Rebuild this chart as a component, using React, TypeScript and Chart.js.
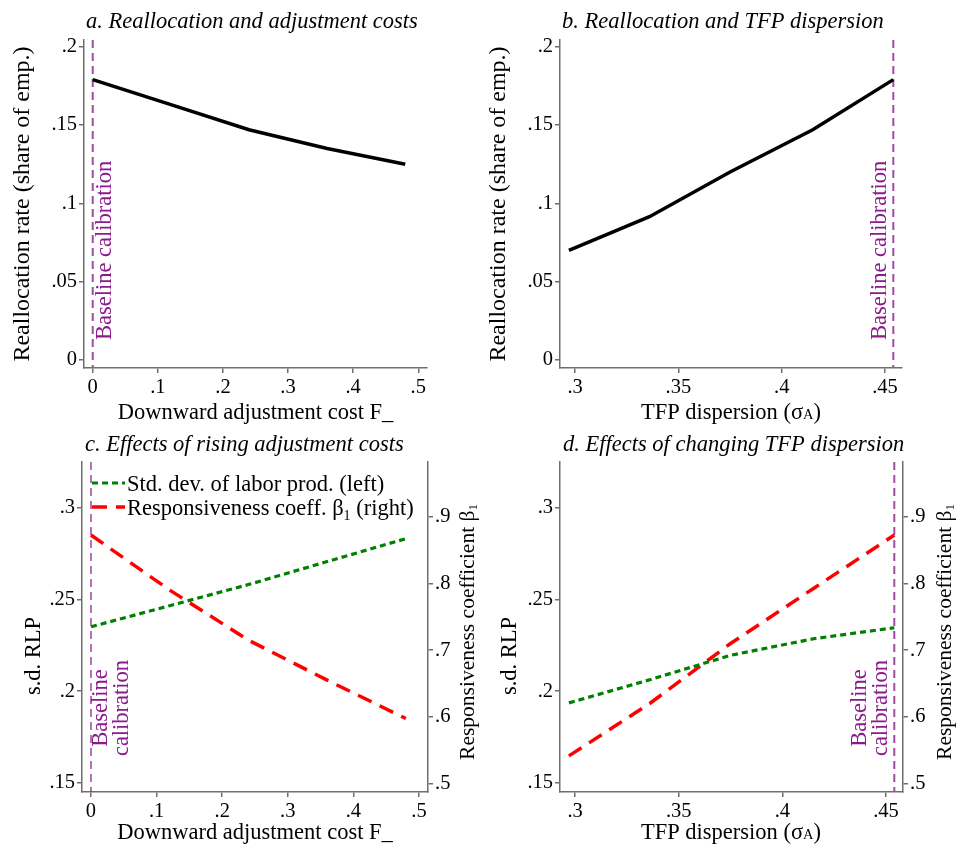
import React, { useEffect, useRef } from "react";
import { Chart, registerables } from "chart.js";
Chart.register(...registerables);

// ---------- data ----------
const costA = [0, 0.12, 0.24, 0.36, 0.48];
const reallocA = [0.179, 0.163, 0.147, 0.135, 0.125];
const sigmaB = [0.297, 0.336, 0.375, 0.415, 0.454];
const reallocB = [0.07, 0.0915, 0.12, 0.147, 0.179];
const costC = [0, 0.12, 0.24, 0.36, 0.48];
const sdC = [0.235, 0.2465, 0.258, 0.2705, 0.283];
const betaC = [0.8725, 0.79, 0.715, 0.655, 0.5975];
const sigmaD = [0.297, 0.336, 0.375, 0.415, 0.454];
const sdD = [0.1936, 0.2062, 0.2195, 0.2285, 0.2345];
const betaD = [0.5415, 0.62, 0.71, 0.7925, 0.8725];
const costTicks = [0, 0.1, 0.2, 0.3, 0.4, 0.5];
const sigmaTicks = [0.3, 0.35, 0.4, 0.45];
const reallocTicks = [0, 0.05, 0.1, 0.15, 0.2];
const sdTicks = [0.15, 0.2, 0.25, 0.3];
const betaTicks = [0.5, 0.6, 0.7, 0.8, 0.9];
const baselineCost = 0;
const baselineSigma = 0.454;

// ---------- styling ----------
const W = 961;
const H = 848;
const FONT = "'Liberation Serif', 'Times New Roman', Times, serif";
const AXIS = "#6e6e6e";
const PURPLE_TEXT = "#8b1a8b";
const PURPLE_LINE = "#a04ca0";
const GREEN = "#008000";
const RED = "#ff0000";
const TS = 22.5; // general text size
const YT = 24; // left y-axis title size
const RT = 21.5; // right y-axis title size

type Seg = { t: string; s?: number; dy?: number };
type TextSpec = { segs: Seg[]; x: number; y: number; size: number; align?: "left" | "center"; rot?: number; color?: string; italic?: boolean };

function drawRich(ctx: CanvasRenderingContext2D, sp: TextSpec) {
  ctx.save();
  ctx.translate(sp.x, sp.y);
  if (sp.rot) ctx.rotate(sp.rot);
  ctx.fillStyle = sp.color || "#000";
  ctx.textBaseline = "alphabetic";
  ctx.textAlign = "left";
  const fontOf = (sz: number) => `${sp.italic ? "italic " : ""}${sz}px ${FONT}`;
  let total = 0;
  for (const sg of sp.segs) {
    ctx.font = fontOf(sg.s || sp.size);
    total += ctx.measureText(sg.t).width;
  }
  let cx = sp.align === "center" ? -total / 2 : 0;
  for (const sg of sp.segs) {
    ctx.font = fontOf(sg.s || sp.size);
    ctx.fillText(sg.t, cx, sg.dy || 0);
    cx += ctx.measureText(sg.t).width;
  }
  ctx.restore();
}

const fmt = (v: number) => {
  if (Math.abs(v) < 1e-9) return "0";
  return parseFloat(v.toFixed(3)).toString().replace(/^0\./, ".");
};

interface AxisSpec { min: number; max: number; ticks: number[] }
interface Panel {
  plot: { l: number; t: number; r: number; b: number };
  x: AxisSpec;
  y: AxisSpec;
  y2?: AxisSpec;
  datasets: any[];
  texts: TextSpec[];
  baselineValue: number;
  baselineWidth: number;
  baselineColor: string;
  legend?: boolean;
}

const ROT = -Math.PI / 2;
const pts = (xs: number[], ys: number[]) => xs.map((x, i) => ({ x, y: ys[i] }));
const sigmaLabel: Seg[] = [{ t: "TFP dispersion (σ" }, { t: "A", s: 14.5 }, { t: ")" }];
const betaTitle: Seg[] = [{ t: "Responsiveness coefficient β" }, { t: "1", s: 13, dy: 3 }];

const panels: Panel[] = [
  {
    plot: { l: 84, t: 40, r: 427, b: 368 },
    x: { min: -0.0134, max: 0.5134, ticks: costTicks },
    y: { min: -0.0051, max: 0.2043, ticks: reallocTicks },
    datasets: [{ data: pts(costA, reallocA), borderColor: "#000", borderWidth: 3.5 }],
    baselineValue: baselineCost,
    baselineWidth: 2,
    baselineColor: PURPLE_LINE,
    texts: [
      { segs: [{ t: "a. Reallocation and adjustment costs" }], x: 86, y: 28, size: TS, italic: true },
      { segs: [{ t: "Downward adjustment cost F_" }], x: 255.5, y: 419, size: TS, align: "center" },
      { segs: [{ t: "Reallocation rate (share of emp.)" }], x: 29, y: 204, size: YT, align: "center", rot: ROT },
      { segs: [{ t: "Baseline calibration" }], x: 111, y: 340, size: TS, rot: ROT, color: PURPLE_TEXT },
    ],
  },
  {
    plot: { l: 560, t: 40, r: 902, b: 368 },
    x: { min: 0.2927, max: 0.4582, ticks: sigmaTicks },
    y: { min: -0.0051, max: 0.2043, ticks: reallocTicks },
    datasets: [{ data: pts(sigmaB, reallocB), borderColor: "#000", borderWidth: 3.5 }],
    baselineValue: baselineSigma,
    baselineWidth: 2,
    baselineColor: PURPLE_LINE,
    texts: [
      { segs: [{ t: "b. Reallocation and TFP dispersion" }], x: 562, y: 28, size: TS, italic: true },
      { segs: sigmaLabel, x: 731, y: 419, size: TS, align: "center" },
      { segs: [{ t: "Reallocation rate (share of emp.)" }], x: 505, y: 204, size: YT, align: "center", rot: ROT },
      { segs: [{ t: "Baseline calibration" }], x: 886, y: 340, size: TS, rot: ROT, color: PURPLE_TEXT },
    ],
  },
  {
    plot: { l: 82, t: 462, r: 428, b: 792 },
    x: { min: -0.0137, max: 0.5137, ticks: costTicks },
    y: { min: 0.1451, max: 0.3247, ticks: sdTicks },
    y2: { min: 0.4874, max: 0.982, ticks: betaTicks },
    datasets: [
      { data: pts(costC, sdC), borderColor: GREEN, borderWidth: 3.2, borderDash: [6, 4], yAxisID: "y" },
      { data: pts(costC, betaC), borderColor: RED, borderWidth: 3.5, borderDash: [15, 9], yAxisID: "y2" },
    ],
    baselineValue: baselineCost,
    baselineWidth: 1.3,
    baselineColor: "#8e2a8e",
    legend: true,
    texts: [
      { segs: [{ t: "c. Effects of rising adjustment costs" }], x: 85, y: 451, size: TS, italic: true },
      { segs: [{ t: "Downward adjustment cost F_" }], x: 255, y: 839, size: TS, align: "center" },
      { segs: [{ t: "s.d. RLP" }], x: 40, y: 656, size: TS, align: "center", rot: ROT },
      { segs: betaTitle, x: 474, y: 632, size: RT, align: "center", rot: ROT },
      { segs: [{ t: "Baseline" }], x: 107, y: 708, size: TS, align: "center", rot: ROT, color: PURPLE_TEXT },
      { segs: [{ t: "calibration" }], x: 128, y: 708, size: TS, align: "center", rot: ROT, color: PURPLE_TEXT },
    ],
  },
  {
    plot: { l: 560, t: 462, r: 903, b: 792 },
    x: { min: 0.2927, max: 0.4582, ticks: sigmaTicks },
    y: { min: 0.1451, max: 0.3247, ticks: sdTicks },
    y2: { min: 0.4874, max: 0.982, ticks: betaTicks },
    datasets: [
      { data: pts(sigmaD, sdD), borderColor: GREEN, borderWidth: 3.2, borderDash: [6, 4], yAxisID: "y" },
      { data: pts(sigmaD, betaD), borderColor: RED, borderWidth: 3.5, borderDash: [15, 9], yAxisID: "y2" },
    ],
    baselineValue: baselineSigma,
    baselineWidth: 2,
    baselineColor: PURPLE_LINE,
    texts: [
      { segs: [{ t: "d. Effects of changing TFP dispersion" }], x: 563, y: 451, size: TS, italic: true },
      { segs: sigmaLabel, x: 731, y: 839, size: TS, align: "center" },
      { segs: [{ t: "s.d. RLP" }], x: 516, y: 656, size: TS, align: "center", rot: ROT },
      { segs: betaTitle, x: 951, y: 632, size: RT, align: "center", rot: ROT },
      { segs: [{ t: "Baseline" }], x: 866, y: 708, size: TS, align: "center", rot: ROT, color: PURPLE_TEXT },
      { segs: [{ t: "calibration" }], x: 887, y: 708, size: TS, align: "center", rot: ROT, color: PURPLE_TEXT },
    ],
  },
];

const Y_W = 60;
const Y2_W = 40;
const X_H = 40;

function scaleOpts(a: AxisSpec, position: string, fit: (s: any) => void) {
  return {
    type: "linear",
    position,
    min: a.min,
    max: a.max,
    afterBuildTicks: (s: any) => {
      s.ticks = a.ticks.map((v) => ({ value: v }));
    },
    afterFit: fit,
    grid: { drawOnChartArea: false, drawTicks: true, tickLength: 5, color: AXIS, lineWidth: 1.5 },
    border: { display: true, color: AXIS, width: 1.5 },
    ticks: {
      color: "#000",
      font: { family: FONT, size: 20.5 },
      padding: 2,
      autoSkip: false,
      maxRotation: 0,
      callback: (v: any) => fmt(Number(v)),
    },
  };
}

function buildConfig(p: Panel): any {
  const scales: any = {
    x: scaleOpts(p.x, "bottom", (s: any) => { s.height = X_H; }),
    y: scaleOpts(p.y, "left", (s: any) => { s.width = Y_W; }),
  };
  if (p.y2) scales.y2 = scaleOpts(p.y2, "right", (s: any) => { s.width = Y2_W; });
  const decor = {
    id: "decor",
    beforeDatasetsDraw(chart: any) {
      const ctx = chart.ctx as CanvasRenderingContext2D;
      const { top, bottom } = chart.chartArea;
      const px = chart.scales.x.getPixelForValue(p.baselineValue);
      ctx.save();
      ctx.strokeStyle = p.baselineColor;
      ctx.lineWidth = p.baselineWidth;
      ctx.setLineDash([8, 5]);
      ctx.beginPath();
      ctx.moveTo(px, top);
      ctx.lineTo(px, bottom);
      ctx.stroke();
      ctx.restore();
    },
    afterDraw(chart: any) {
      const ctx = chart.ctx as CanvasRenderingContext2D;
      for (const t of p.texts) drawRich(ctx, t);
      if (p.legend) {
        const items = [
          { color: GREEN, dash: [6, 4], w: 3.2, y: 483, segs: [{ t: "Std. dev. of labor prod. (left)" }] },
          { color: RED, dash: [15, 9], w: 3.5, y: 507, segs: [{ t: "Responsiveness coeff. β" }, { t: "1", s: 14, dy: 5 }, { t: " (right)" }] },
        ];
        for (const it of items) {
          ctx.save();
          ctx.strokeStyle = it.color;
          ctx.lineWidth = it.w;
          ctx.setLineDash(it.dash);
          ctx.beginPath();
          ctx.moveTo(92, it.y);
          ctx.lineTo(125, it.y);
          ctx.stroke();
          ctx.restore();
          drawRich(ctx, { segs: it.segs, x: 127, y: it.y + 7.5, size: TS });
        }
      }
    },
  };
  return {
    type: "line",
    data: {
      datasets: p.datasets.map((d) => ({
        ...d,
        pointRadius: 0,
        tension: 0,
        fill: false,
        borderCapStyle: "butt",
      })),
    },
    options: {
      responsive: false,
      animation: false,
      events: [],
      layout: {
        padding: {
          left: p.plot.l - Y_W,
          top: p.plot.t,
          right: W - p.plot.r - (p.y2 ? Y2_W : 0),
          bottom: H - p.plot.b - X_H,
        },
      },
      plugins: { legend: { display: false }, tooltip: { enabled: false }, title: { display: false } },
      scales,
    },
    plugins: [decor],
  };
}

function PanelChart({ spec }: { spec: Panel }) {
  const ref = useRef<HTMLCanvasElement>(null);
  useEffect(() => {
    const chart = new Chart(ref.current as HTMLCanvasElement, buildConfig(spec));
    return () => chart.destroy();
  }, [spec]);
  return (
    <canvas
      ref={ref}
      width={W}
      height={H}
      style={{ position: "absolute", left: 0, top: 0, width: W, height: H }}
    />
  );
}

export default function App() {
  return (
    <div style={{ position: "fixed", left: 0, top: 0, width: W, height: H, background: "#fff", overflow: "hidden" }}>
      {panels.map((p, i) => (
        <PanelChart key={i} spec={p} />
      ))}
    </div>
  );
}
